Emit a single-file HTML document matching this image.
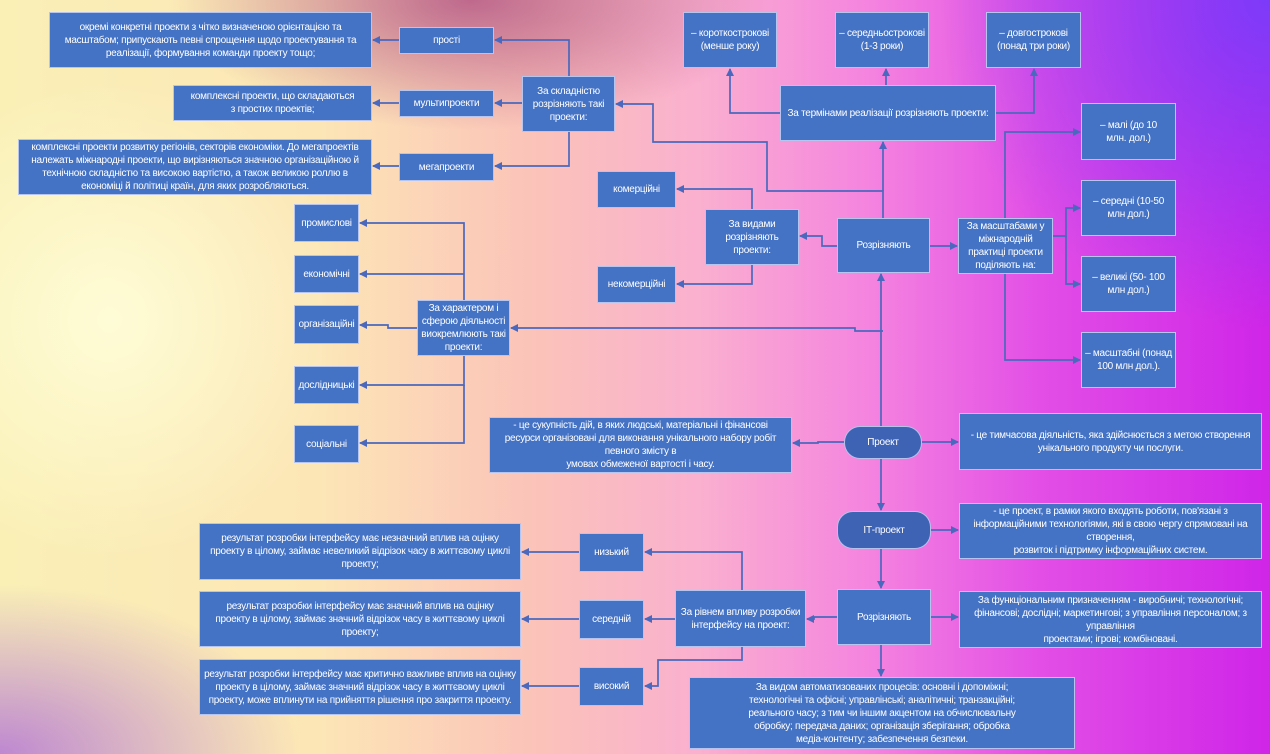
<!DOCTYPE html>
<html><head><meta charset="utf-8"><style>
*{margin:0;padding:0;box-sizing:border-box}
body{width:1270px;height:754px;overflow:hidden;position:relative;font-family:"Liberation Sans","DejaVu Sans",sans-serif;
background:
radial-gradient(ellipse 300px 130px at 470px 0px, rgba(175,80,130,0.8), rgba(175,80,130,0) 100%),
radial-gradient(ellipse 330px 330px at 1270px 0px, rgba(120,60,250,0.95), rgba(120,60,250,0) 100%),
radial-gradient(ellipse 300px 170px at 0px 754px, rgba(175,110,215,0.8), rgba(175,110,215,0) 100%),
radial-gradient(ellipse 240px 240px at 110px 320px, rgba(255,255,220,0.85), rgba(255,255,220,0) 100%),
linear-gradient(90deg,#faf0b6 0%,#fce6b6 25%,#fbc3b9 42%,#fab0cf 55%,#f585df 68%,#e24ee6 82%,#cf25e8 100%);}
.b{position:absolute;background:#4472c4;border:1px solid rgba(220,225,255,0.75);color:#fff;font-size:10px;line-height:13px;display:flex;align-items:center;justify-content:center;text-align:center;padding:0 8px;letter-spacing:-0.25px}
.r{border-radius:16px;background:#3e63b4}
svg{position:absolute;left:0;top:0}
</style></head><body>
<svg width="1270" height="754">
<defs><marker id="a" markerWidth="8" markerHeight="8" refX="7" refY="4" orient="auto" markerUnits="userSpaceOnUse"><path d="M0,0 L8,4 L0,8 z" fill="#4a68bd"/></marker></defs>
<g fill="none" stroke="#4a68bd" stroke-width="1.7" marker-end="url(#a)">
<path d="M400,40 H373"/><path d="M400,103 H373"/><path d="M400,166 H373"/>
<path d="M569,76 V40 H495"/><path d="M522,103 H495"/><path d="M569,132 V166 H495"/>
<path d="M883,218 L883,191 H767 V142 H653 V104 H616"/>
<path d="M883,191 V142"/>
<path d="M780,113 H730 V69"/><path d="M886,85 V69"/><path d="M996,113 H1034 V69"/>
<path d="M1005,218 V132 H1080"/><path d="M1005,274 V360 H1080"/>
<path d="M1053,236 H1066 V208 H1080"/><path d="M1066,236 V284 H1080"/>
<path d="M930,246 H957"/>
<path d="M837,246 H822 V236 H800"/>
<path d="M752,209 V189 H677"/><path d="M752,265 V284 H677"/>
<path d="M881,426 V274"/>
<path d="M883,331 H855 V328 H511"/>
<path d="M464,300 V223 H360"/><path d="M464,274 H360"/>
<path d="M417,328 H388 V325 H360"/>
<path d="M464,356 V385 H360"/><path d="M464,385 V443 H360"/>
<path d="M844,442 H818 V443 H793"/><path d="M922,442 H958"/>
<path d="M881,459 V510"/><path d="M881,549 V588"/>
<path d="M931,530 H958"/><path d="M931,617 H958"/>
<path d="M881,645 V676"/>
<path d="M837,617 H814 V619 H807"/>
<path d="M742,590 V552 H645"/><path d="M675,619 H645"/>
<path d="M742,647 V660 H658 V686 H645"/>
<path d="M579,552 H522"/><path d="M579,619 H522"/><path d="M579,686 H522"/>
</g></svg>

<div class="b" style="left:49px;top:12px;width:323px;height:56px;padding:0 12px">окремі конкретні проекти з чітко визначеною орієнтацією та масштабом; припускають певні спрощення щодо проектування та реалізації, формування команди проекту тощо;</div>
<div class="b" style="left:399px;top:27px;width:95px;height:27px">прості</div>
<div class="b" style="left:173px;top:85px;width:199px;height:36px;padding:0 16px">комплексні проекти, що складаються з простих проектів;</div>
<div class="b" style="left:399px;top:90px;width:95px;height:27px;padding:0 2px">мультипроекти</div>
<div class="b" style="left:18px;top:139px;width:354px;height:56px;padding:0 10px">комплексні проекти розвитку регіонів, секторів економіки. До мегапроектів належать міжнародні проекти, що вирізняються значною організаційною й технічною складністю та високою вартістю, а також великою роллю в економіці й політиці країн, для яких розробляються.</div>
<div class="b" style="left:399px;top:153px;width:95px;height:28px">мегапроекти</div>
<div class="b" style="left:522px;top:76px;width:93px;height:56px;padding:0 5px">За складністю розрізняють такі проекти:</div>
<div class="b" style="left:294px;top:204px;width:65px;height:38px;padding:0 2px">промислові</div>
<div class="b" style="left:294px;top:255px;width:65px;height:38px;padding:0 2px">економічні</div>
<div class="b" style="left:294px;top:305px;width:65px;height:39px;padding:0 1px">організаційні</div>
<div class="b" style="left:294px;top:366px;width:65px;height:38px;padding:0 1px">дослідницькі</div>
<div class="b" style="left:294px;top:425px;width:65px;height:38px;padding:0 2px">соціальні</div>
<div class="b" style="left:417px;top:300px;width:93px;height:56px;padding:0 3px">За характером і сферою діяльності виокремлюють такі проекти:</div>
<div class="b" style="left:597px;top:171px;width:79px;height:37px;padding:0 2px">комерційні</div>
<div class="b" style="left:597px;top:266px;width:79px;height:37px;padding:0 2px">некомерційні</div>
<div class="b" style="left:683px;top:12px;width:94px;height:56px;padding:0 3px">– короткострокові (менше року)</div>
<div class="b" style="left:835px;top:12px;width:94px;height:56px;padding:0 3px">– середньострокові (1-3 роки)</div>
<div class="b" style="left:986px;top:12px;width:95px;height:56px;padding:0 3px">– довгострокові (понад три роки)</div>
<div class="b" style="left:780px;top:85px;width:216px;height:56px;padding:0 2px">За термінами реалізації розрізняють проекти:</div>
<div class="b" style="left:1081px;top:103px;width:95px;height:57px">– малі (до 10 млн. дол.)</div>
<div class="b" style="left:1081px;top:180px;width:95px;height:56px">– середні (10-50 млн дол.)</div>
<div class="b" style="left:1081px;top:256px;width:95px;height:56px">– великі (50- 100 млн дол.)</div>
<div class="b" style="left:1081px;top:332px;width:95px;height:56px;padding:0 3px">– масштабні (понад 100 млн дол.).</div>
<div class="b" style="left:705px;top:209px;width:94px;height:56px;padding:0 14px">За видами розрізняють проекти:</div>
<div class="b" style="left:837px;top:218px;width:93px;height:55px">Розрізняють</div>
<div class="b" style="left:958px;top:218px;width:95px;height:56px;padding:0 4px">За масштабами у міжнародній практиці проекти поділяють на:</div>
<div class="b" style="left:489px;top:417px;width:303px;height:56px;padding:0 12px">- це сукупність дій, в яких людські, матеріальні і фінансові ресурси організовані для виконання унікального набору робіт певного змісту в<br>умовах обмеженої вартості і часу.</div>
<div class="b r" style="left:844px;top:426px;width:78px;height:33px">Проект</div>
<div class="b" style="left:959px;top:413px;width:303px;height:57px;padding:0 4px">- це тимчасова діяльність, яка здійснюється з метою створення унікального продукту чи послуги.</div>
<div class="b r" style="left:837px;top:511px;width:94px;height:38px">ІТ-проект</div>
<div class="b" style="left:959px;top:503px;width:303px;height:56px;padding:0 6px">- це проект, в рамки якого входять роботи, пов'язані з інформаційними технологіями, які в свою чергу спрямовані на створення,<br>розвиток і підтримку інформаційних систем.</div>
<div class="b" style="left:837px;top:589px;width:94px;height:56px">Розрізняють</div>
<div class="b" style="left:959px;top:591px;width:303px;height:57px;padding:0 6px">За функціональним призначенням - виробничі; технологічні; фінансові; дослідні; маркетингові; з управління персоналом; з управління<br>проектами; ігрові; комбіновані.</div>
<div class="b" style="left:689px;top:677px;width:386px;height:72px;padding:0 50px">За видом автоматизованих процесів: основні і допоміжні; технологічні та офісні; управлінські; аналітичні; транзакційні; реального часу; з тим чи іншим акцентом на обчислювальну обробку; передача даних; організація зберігання; обробка медіа-контенту; забезпечення безпеки.</div>
<div class="b" style="left:675px;top:590px;width:131px;height:57px;padding:0 3px">За рівнем впливу розробки інтерфейсу на проект:</div>
<div class="b" style="left:579px;top:533px;width:65px;height:39px">низький</div>
<div class="b" style="left:579px;top:600px;width:65px;height:39px">середній</div>
<div class="b" style="left:579px;top:667px;width:65px;height:39px">високий</div>
<div class="b" style="left:199px;top:523px;width:322px;height:57px;padding:0 4px">результат розробки інтерфейсу має незначний вплив на оцінку проекту в цілому, займає невеликий відрізок часу в життєвому циклі проекту;</div>
<div class="b" style="left:199px;top:591px;width:322px;height:56px;padding:0 14px">результат розробки інтерфейсу має значний вплив на оцінку проекту в цілому, займає значний відрізок часу в життєвому циклі проекту;</div>
<div class="b" style="left:199px;top:659px;width:322px;height:56px;padding:0 4px">результат розробки інтерфейсу має критично важливе вплив на оцінку проекту в цілому, займає значний відрізок часу в життєвому циклі<br>проекту, може вплинути на прийняття рішення про закриття проекту.</div>
</body></html>
